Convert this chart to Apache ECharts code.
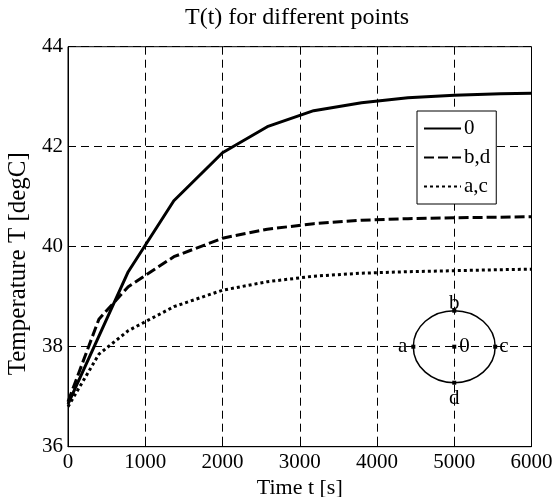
<!DOCTYPE html>
<html>
<head>
<meta charset="utf-8">
<script src="https://cdn.jsdelivr.net/npm/echarts@6/dist/echarts.min.js"></script>
<style>
html,body{margin:0;padding:0;background:#fff;}
#chart{width:558px;height:497px;}
</style>
</head>
<body>
<div id="chart"></div>
<script>
// ---- data ----
const seriesNames = ['0', 'b,d', 'a,c'];
const time0 = [0, 780, 1370, 2000, 2580, 3180, 3800, 4400, 5000, 5600, 6000];
const temp0 = [36.85, 39.5, 40.92, 41.88, 42.4, 42.72, 42.88, 42.98, 43.03, 43.06, 43.07];
const timeBD = [0, 400, 780, 1370, 2000, 2580, 3180, 3800, 4400, 5000, 5600, 6000];
const tempBD = [36.9, 38.55, 39.2, 39.8, 40.17, 40.35, 40.46, 40.53, 40.56, 40.58, 40.59, 40.6];
const timeAC = [0, 400, 780, 1370, 2000, 2580, 3180, 3800, 4400, 5000, 5600, 6000];
const tempAC = [36.8, 37.85, 38.32, 38.8, 39.13, 39.3, 39.41, 39.47, 39.5, 39.52, 39.54, 39.55];
const xTicks = [0, 1000, 2000, 3000, 4000, 5000, 6000];
const yTicks = [36, 38, 40, 42, 44];
// inset sketch (cross-section with points), in data units
const insetCenter = [5000, 38];
const insetRadius = [530, 0.72];
const insetNames = ['a', 'b', 'c', 'd', '0'];
const insetX = [4470, 5000, 5530, 5000, 5000];
const insetY = [38, 38.72, 38, 37.28, 38];

const FONT = "'Liberation Serif','Times New Roman',serif";
const labelPos = {a: 'left', b: 'top', c: 'right', d: 'bottom', '0': 'right'};
const labelDist = {a: 4, b: -5, c: 2, d: 3, '0': 3};

const zip = (xs, ys) => xs.map((x, i) => [x, ys[i]]);

const chart = echarts.init(document.getElementById('chart'), null, {renderer: 'canvas'});
chart.setOption({
  animation: false,
  backgroundColor: '#fff',
  title: {
    text: 'T(t) for different points',
    left: 185, top: 6, padding: 0,
    textStyle: {fontFamily: FONT, fontSize: 24, fontWeight: 'normal', color: '#000'}
  },
  grid: {left: 68, right: 26.5, top: 46.7, bottom: 50.3, containLabel: false, outerBoundsMode: 'none',
         show: true, borderColor: '#000', borderWidth: 1, backgroundColor: 'transparent'},
  legend: {
    data: seriesNames,
    orient: 'vertical',
    left: 417, top: 111,
    padding: [7, 6, 7, 6],
    itemWidth: 37, itemHeight: 20, itemGap: 8,
    itemStyle: {opacity: 0},
    backgroundColor: '#fff', borderColor: '#000', borderWidth: 1, borderRadius: 0,
    textStyle: {fontFamily: FONT, fontSize: 21, color: '#000', padding: [0, 0, 0, -2]}
  },
  xAxis: {
    type: 'value', min: xTicks[0], max: xTicks[xTicks.length - 1], interval: 1000,
    name: 'Time t [s]', nameLocation: 'middle', nameGap: 21,
    nameTextStyle: {fontFamily: FONT, fontSize: 22, color: '#000'},
    axisLine: {show: true, lineStyle: {color: '#000', width: 1}},
    axisTick: {show: true, inside: true, length: 4, lineStyle: {color: '#000'}},
    axisLabel: {fontFamily: FONT, fontSize: 21, color: '#000', margin: 5, formatter: v => String(v)},
    splitLine: {show: true, lineStyle: {color: '#000', width: 1, type: [8, 5]}}
  },
  yAxis: {
    type: 'value', min: yTicks[0], max: yTicks[yTicks.length - 1], interval: 2,
    name: 'Temperature T [degC]', nameLocation: 'middle', nameGap: 35,
    nameTextStyle: {fontFamily: FONT, fontSize: 25, color: '#000', padding: [0, 0, 0, -34]},
    axisLine: {show: true, lineStyle: {color: '#000', width: 1}},
    axisTick: {show: true, inside: true, length: 4, lineStyle: {color: '#000'}},
    axisLabel: {fontFamily: FONT, fontSize: 21, color: '#000', margin: 5, formatter: v => String(v)},
    splitLine: {show: true, lineStyle: {color: '#000', width: 1, type: [8, 5]}}
  },
  series: [
    {
      name: seriesNames[0], type: 'line', data: zip(time0, temp0),
      symbol: 'none', smooth: false, z: 5,
      lineStyle: {color: '#000', width: 3, type: 'solid'}, itemStyle: {color: '#000'}
    },
    {
      name: seriesNames[1], type: 'line', data: zip(timeBD, tempBD),
      symbol: 'none', smooth: false, z: 5,
      lineStyle: {color: '#000', width: 3, type: [10, 4]}, itemStyle: {color: '#000'}
    },
    {
      name: seriesNames[2], type: 'line', data: zip(timeAC, tempAC),
      symbol: 'none', smooth: false, z: 5,
      lineStyle: {color: '#000', width: 3, type: [3, 3]}, itemStyle: {color: '#000'}
    },
    {
      type: 'custom', name: 'inset', silent: true, z: 6,
      data: [[insetCenter[0], insetCenter[1], insetRadius[0], insetRadius[1]]],
      encode: {x: 0, y: 1},
      renderItem: function (params, api) {
        const c = api.coord([api.value(0), api.value(1)]);
        const s = api.size([api.value(2), api.value(3)]);
        return {
          type: 'ellipse',
          shape: {cx: c[0], cy: c[1], rx: s[0], ry: s[1]},
          style: {fill: 'none', stroke: '#000', lineWidth: 1.5}
        };
      }
    },
    {
      type: 'scatter', name: 'insetPoints', silent: true, z: 7,
      symbol: 'rect', symbolSize: 4,
      itemStyle: {color: '#000', opacity: 1},
      data: insetNames.map((n, i) => ({
        value: [insetX[i], insetY[i]],
        label: {show: true, formatter: n, position: labelPos[n], distance: labelDist[n],
                fontFamily: FONT, fontSize: 21, color: '#000', textBorderWidth: 0, opacity: 1}
      }))
    }
  ]
});
</script>
</body>
</html>
